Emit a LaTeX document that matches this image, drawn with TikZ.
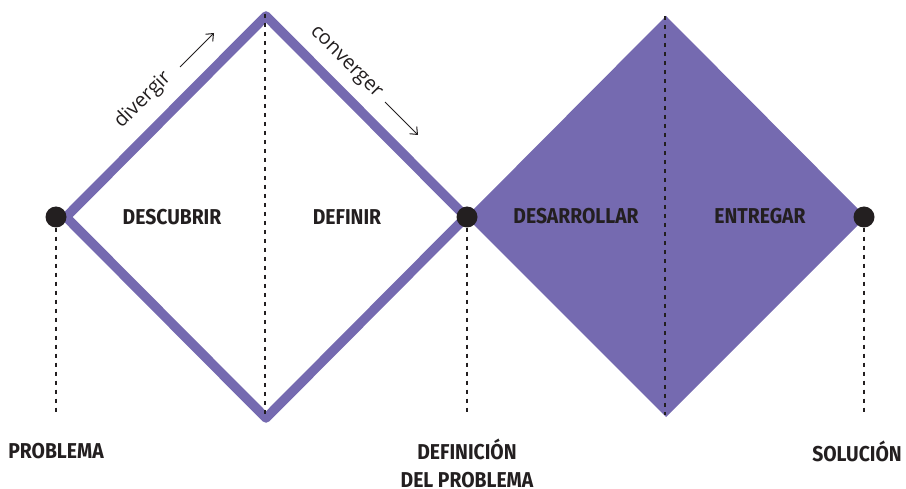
\documentclass[tikz,border=0pt]{standalone}
\usepackage{fontspec}
\setmainfont{Open Sans}
\newfontfamily\capsfont{Fira Sans}[FakeStretch=0.9]
\usetikzlibrary{arrows.meta}
\definecolor{dpurple}{RGB}{117,106,176}
\definecolor{ink}{RGB}{35,31,32}
\begin{document}
\begin{tikzpicture}[x=1pt,y=-1pt,
  phase/.style={font=\capsfont\bfseries\fontsize{21.5}{28}\selectfont, text=ink, inner sep=0pt, align=center},
  milestone/.style={circle, fill=ink, minimum size=21pt, inner sep=0pt},
  guide/.style={draw=ink, line width=1.6pt, dash pattern=on 4pt off 5pt},
  hint/.style={font=\fontsize{20}{24}\selectfont, text=ink, inner sep=0pt},
  hintarrow/.style={draw=ink, line width=1pt, -{Straight Barb[length=6pt,width=10pt]}}
]
\useasboundingbox (0,0) rectangle (906,489);

% first diamond (outline) and second diamond (filled)
\coordinate (a-left)  at (66,217);
\coordinate (a-top)   at (266,16);
\coordinate (a-right) at (466,217);
\coordinate (a-bot)   at (266,418);
\coordinate (b-left)  at (466,217);
\coordinate (b-top)   at (666,16);
\coordinate (b-right) at (866,217);
\coordinate (b-bot)   at (666,417);

\fill[dpurple] (b-left) -- (b-top) -- (b-right) -- (b-bot) -- cycle;
\draw[dpurple, line width=9.5pt, line join=round]
  (a-left) -- (a-top) -- (a-right) -- (a-bot) -- cycle;

% milestones
\node[milestone] (problem)  at (56,217) {};
\node[milestone] (define)   at (467,217) {};
\node[milestone] (solution) at (864,217) {};

% dashed guides
\coordinate (problem-end)  at (56,413);
\coordinate (define-end)   at (467,413);
\coordinate (solution-end) at (864,413);
\coordinate (a-mid-top) at (265,14);
\coordinate (a-mid-bot) at (265,415);
\coordinate (b-mid-top) at (665,16);
\coordinate (b-mid-bot) at (665,415);
\draw[guide] (problem) -- (problem-end);
\draw[guide] (define) -- (define-end);
\draw[guide] (solution) -- (solution-end);
\draw[guide] (a-mid-top) -- (a-mid-bot);
\draw[guide] (b-mid-top) -- (b-mid-bot);

% phase names
\node[phase] (discover) at (172,217) {DESCUBRIR};
\node[phase] (definir)  at (347,217) {DEFINIR};
\node[phase] (develop)  at (576,216) {DESARROLLAR};
\node[phase] (deliver)  at (760,216) {ENTREGAR};

% milestone names
\node[phase] (problem-lbl)  at (56,451) {PROBLEMA};
\node[phase] (define-lbl)   at (467,463) {DEFINICIÓN\\DEL PROBLEMA};
\node[phase] (solution-lbl) at (857,451) {SOLUCIÓN};

% diverge / converge hints
\node[hint, rotate=45]  (diverge)  at (143,100) {divergir};
\node[hint, rotate=-45] (converge) at (345,63) {converger};
\coordinate (div-from) at (180,67);
\coordinate (div-to)   at (214,33);
\coordinate (con-from) at (385,102);
\coordinate (con-to)   at (418,135);
\draw[hintarrow] (div-from) -- (div-to);
\draw[hintarrow] (con-from) -- (con-to);
\end{tikzpicture}
\end{document}
